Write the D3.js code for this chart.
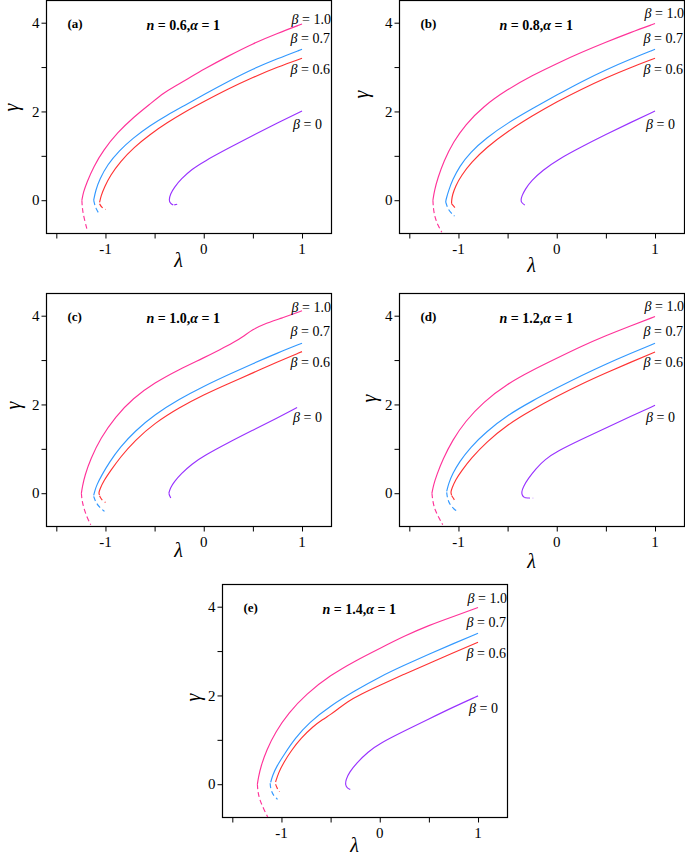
<!DOCTYPE html>
<html><head><meta charset="utf-8">
<script src="https://cdn.jsdelivr.net/npm/d3@7"></script>
<style>body{margin:0;background:#fff}svg{display:block}text{font-family:"Liberation Serif","Times New Roman","DejaVu Serif",serif}</style>
</head><body>
<svg id="chart" width="685" height="856"></svg>
<script>
// ---------- data ----------
const panelIds = ["a","b","c","d","e"];
const nValues = ["0.6","0.8","1.0","1.2","1.4"];
const alphaValue = "1";
const betaLabels = ["1.0","0.7","0.6","0"];
const xTicks = [-1.5,-1,-0.5,0,0.5,1];
const xTickLabels = [-1,0,1];
const yTicks = [0,1,2,3,4];
const yTickLabels = [0,2,4];

// panel (a) n=0.6   [lambda, gamma]
const a_b10 = [[1,3.97],[0.75,3.76],[0.5,3.53],[0.25,3.25],[0,2.95],[-0.18,2.71],[-0.30,2.56],[-0.40,2.43],[-0.54,2.18],[-0.71,1.88],[-0.88,1.52],[-1.02,1.13],[-1.12,0.76],[-1.19,0.40],[-1.225,0.18],[-1.24,0.0]];
const a_b10_d = [[-1.24,0],[-1.235,-0.2],[-1.22,-0.38],[-1.19,-0.64]];
const a_b07 = [[1,3.40],[0.75,3.19],[0.5,2.96],[0.25,2.68],[0,2.38],[-0.2,2.13],[-0.37,1.92],[-0.55,1.68],[-0.72,1.40],[-0.86,1.12],[-0.98,0.80],[-1.06,0.47],[-1.10,0.22],[-1.12,0.0]];
const a_b07_d = [[-1.12,0],[-1.11,-0.1],[-1.09,-0.22],[-1.06,-0.32]];
const a_b06 = [[1,3.20],[0.75,3.0],[0.5,2.77],[0.25,2.51],[0,2.22],[-0.2,1.98],[-0.37,1.75],[-0.55,1.48],[-0.71,1.19],[-0.85,0.87],[-0.95,0.56],[-1.01,0.30],[-1.045,0.10],[-1.06,-0.05]];
const a_b06_d = [[-1.06,-0.08],[-1.04,-0.16],[-1.0,-0.21]];
const a_b00 = [[1,2.01],[0.75,1.74],[0.5,1.46],[0.25,1.17],[0,0.87],[-0.12,0.70],[-0.23,0.48],[-0.30,0.29],[-0.34,0.14],[-0.355,0.0],[-0.34,-0.07],[-0.31,-0.11]];
const a_b00_d = [[-0.30,-0.105],[-0.27,-0.09]];

// panel (b) n=0.8
const b_b10 = [[1,3.98],[0.75,3.78],[0.5,3.56],[0.25,3.33],[0,3.08],[-0.25,2.81],[-0.5,2.50],[-0.75,2.11],[-0.93,1.70],[-1.05,1.32],[-1.15,0.88],[-1.21,0.50],[-1.245,0.22],[-1.26,0.0]];
const b_b10_d = [[-1.26,0],[-1.255,-0.2],[-1.24,-0.38],[-1.21,-0.56],[-1.17,-0.72]];
const b_b07 = [[1,3.40],[0.75,3.18],[0.5,2.94],[0.25,2.67],[0,2.37],[-0.25,2.06],[-0.5,1.74],[-0.72,1.40],[-0.88,1.08],[-0.99,0.76],[-1.06,0.46],[-1.10,0.22],[-1.125,0.03],[-1.13,-0.04]];
const b_b07_d = [[-1.13,-0.04],[-1.11,-0.18],[-1.08,-0.28],[-1.04,-0.36]];
const b_b06 = [[1,3.20],[0.75,2.99],[0.5,2.76],[0.25,2.50],[0,2.22],[-0.25,1.90],[-0.5,1.55],[-0.72,1.18],[-0.87,0.85],[-0.97,0.56],[-1.03,0.32],[-1.06,0.13],[-1.07,0.0],[-1.07,-0.08]];
const b_b06_d = [[-1.07,-0.08],[-1.05,-0.13],[-1.035,-0.17]];
const b_b00 = [[1,2.01],[0.75,1.75],[0.5,1.48],[0.25,1.2],[0,0.9],[-0.14,0.68],[-0.26,0.44],[-0.32,0.25],[-0.355,0.1],[-0.365,0],[-0.36,-0.05],[-0.325,-0.11]];
const b_b00_d = [];

// panel (c) n=1.0
const c_b10 = [[1,4.11],[0.8,3.95],[0.6,3.80],[0.5,3.69],[0.4,3.53],[0.3,3.39],[0.17,3.24],[0,3.05],[-0.25,2.79],[-0.5,2.49],[-0.72,2.14],[-0.9,1.72],[-1.05,1.24],[-1.15,0.78],[-1.21,0.40],[-1.235,0.15],[-1.245,0.0]];
const c_b10_d = [[-1.245,0],[-1.24,-0.15],[-1.22,-0.34],[-1.19,-0.53],[-1.15,-0.71]];
const c_b07 = [[1,3.38],[0.75,3.16],[0.5,2.92],[0.25,2.67],[0,2.41],[-0.25,2.12],[-0.5,1.77],[-0.7,1.40],[-0.85,1.04],[-0.96,0.70],[-1.04,0.40],[-1.09,0.18],[-1.11,0.04],[-1.12,-0.05]];
const c_b07_d = [[-1.12,-0.07],[-1.1,-0.2],[-1.06,-0.32],[-1.01,-0.41]];
const c_b06 = [[1,3.19],[0.75,2.96],[0.5,2.71],[0.25,2.47],[0,2.22],[-0.25,1.93],[-0.5,1.58],[-0.7,1.19],[-0.85,0.81],[-0.95,0.50],[-1.02,0.27],[-1.055,0.10],[-1.07,0.0],[-1.06,-0.04]];
const c_b06_d = [[-1.06,-0.06],[-1.04,-0.15],[-1.0,-0.21]];
const c_b00 = [[0.95,1.93],[0.75,1.70],[0.5,1.42],[0.25,1.14],[0,0.84],[-0.12,0.66],[-0.23,0.44],[-0.30,0.26],[-0.34,0.12],[-0.355,0.0]];
const c_b00_d = [[-0.355,0],[-0.345,-0.07],[-0.33,-0.13]];

// panel (d) n=1.2
const d_b10 = [[1,3.98],[0.75,3.77],[0.5,3.55],[0.25,3.31],[0,3.04],[-0.25,2.77],[-0.5,2.47],[-0.75,2.05],[-0.93,1.62],[-1.06,1.20],[-1.16,0.76],[-1.22,0.42],[-1.255,0.18],[-1.27,0.0]];
const d_b10_d = [[-1.27,0],[-1.26,-0.2],[-1.24,-0.37],[-1.2,-0.55],[-1.16,-0.71]];
const d_b07 = [[1,3.38],[0.75,3.15],[0.5,2.91],[0.25,2.65],[0,2.37],[-0.25,2.08],[-0.5,1.76],[-0.72,1.38],[-0.88,1.03],[-0.99,0.71],[-1.06,0.44],[-1.10,0.22],[-1.12,0.04]];
const d_b07_d = [[-1.12,0.02],[-1.11,-0.15],[-1.08,-0.28],[-1.04,-0.37],[-1.01,-0.41]];
const d_b06 = [[1,3.18],[0.75,2.95],[0.5,2.71],[0.25,2.46],[0,2.18],[-0.25,1.88],[-0.5,1.55],[-0.72,1.14],[-0.87,0.79],[-0.97,0.50],[-1.03,0.30],[-1.065,0.12],[-1.08,0.02],[-1.07,-0.04]];
const d_b06_d = [[-1.07,-0.05],[-1.05,-0.12],[-1.03,-0.19]];
const d_b00 = [[1,1.98],[0.75,1.73],[0.5,1.47],[0.25,1.21],[0,0.94],[-0.12,0.76],[-0.21,0.56],[-0.29,0.33],[-0.34,0.15],[-0.36,0.02],[-0.35,-0.06],[-0.325,-0.10]];
const d_b00_d = [[-0.325,-0.10],[-0.28,-0.11],[-0.24,-0.11]];

// panel (e) n=1.4
const e_b10 = [[1,3.98],[0.75,3.78],[0.5,3.58],[0.25,3.34],[0,3.06],[-0.25,2.78],[-0.5,2.46],[-0.75,2.03],[-0.93,1.60],[-1.06,1.18],[-1.15,0.78],[-1.21,0.40],[-1.235,0.15],[-1.245,0.0]];
const e_b10_d = [[-1.245,0],[-1.24,-0.18],[-1.22,-0.36],[-1.18,-0.56],[-1.14,-0.74]];
const e_b07 = [[1,3.40],[0.75,3.17],[0.5,2.93],[0.25,2.68],[0,2.42],[-0.25,2.11],[-0.5,1.77],[-0.72,1.39],[-0.86,1.04],[-0.97,0.68],[-1.05,0.40],[-1.09,0.20],[-1.11,0.04]];
const e_b07_d = [[-1.115,0.02],[-1.11,-0.12],[-1.08,-0.26],[-1.04,-0.34]];
const e_b06 = [[1,3.20],[0.75,2.96],[0.5,2.72],[0.25,2.48],[0,2.23],[-0.2,2.02],[-0.33,1.86],[-0.42,1.70],[-0.5,1.57],[-0.58,1.46],[-0.68,1.30],[-0.8,1.04],[-0.9,0.76],[-0.98,0.48],[-1.03,0.26],[-1.06,0.05]];
const e_b06_d = [[-1.06,0.0],[-1.045,-0.09],[-1.02,-0.17]];
const e_b00 = [[1,1.99],[0.75,1.74],[0.5,1.47],[0.25,1.2],[0,0.92],[-0.12,0.73],[-0.23,0.49],[-0.31,0.27],[-0.345,0.1],[-0.35,-0.02],[-0.33,-0.09],[-0.30,-0.12]];
const e_b00_d = [];

const solidSeries = {
  a:[a_b10,a_b07,a_b06,a_b00], b:[b_b10,b_b07,b_b06,b_b00], c:[c_b10,c_b07,c_b06,c_b00],
  d:[d_b10,d_b07,d_b06,d_b00], e:[e_b10,e_b07,e_b06,e_b00]};
const dashedSeries = {
  a:[a_b10_d,a_b07_d,a_b06_d,a_b00_d], b:[b_b10_d,b_b07_d,b_b06_d,b_b00_d], c:[c_b10_d,c_b07_d,c_b06_d,c_b00_d],
  d:[d_b10_d,d_b07_d,d_b06_d,d_b00_d], e:[e_b10_d,e_b07_d,e_b06_d,e_b00_d]};

// ---------- layout / style ----------
const colors = ["#ff3399","#3399ff","#ff3333","#9933ff"];
const W = 285, H = 233;
const layout = {
  a:{x:46,y:0,  lamY:33, gamX:-29, gamY:107, b10Y:23},
  b:{x:399,y:0, lamY:38, gamX:-32, gamY:94,  b10Y:17},
  c:{x:46,y:293,lamY:30, gamX:-27, gamY:112, b10Y:18},
  d:{x:399,y:293,lamY:41,gamX:-24, gamY:105, b10Y:17},
  e:{x:222,y:584,lamY:34,gamX:-23, gamY:113, b10Y:18}
};
const betaLabelY = [null,42,73.5,128];
const betaLabelX = [245,244,244,246.5];

const svg = d3.select("#chart");
const x = d3.scaleLinear().domain([-1.6,1.3]).range([0,W]);
const y = d3.scaleLinear().domain([-0.75,4.5]).range([H,0]);
const line = d3.line().x(d=>x(d[0])).y(d=>y(d[1])).curve(d3.curveBasis);

panelIds.forEach((id,pi)=>{
  const L = layout[id];
  const g = svg.append("g").attr("transform",`translate(${L.x+0.5},${L.y+0.5})`);

  // axes
  const xa = g.append("g").attr("transform",`translate(0,${H})`)
    .call(d3.axisBottom(x).tickValues(xTicks).tickSize(5).tickFormat(""));
  const ya = g.append("g")
    .call(d3.axisLeft(y).tickValues(yTicks).tickSize(5).tickFormat(""));
  [xa,ya].forEach(a=>{a.select(".domain").remove(); a.selectAll("line").attr("stroke","#000").attr("stroke-width",1);});

  g.selectAll(".xl").data(xTickLabels).enter().append("text")
    .attr("x",d=>x(d)).attr("y",H+20).attr("text-anchor","middle")
    .attr("font-size",15).text(d=>String(d));
  g.selectAll(".yl").data(yTickLabels).enter().append("text")
    .attr("x",-7).attr("y",d=>y(d)).attr("dy","0.35em").attr("text-anchor","end")
    .attr("font-size",15).text(d=>String(d));

  // frame
  g.append("rect").attr("x",0).attr("y",0).attr("width",W).attr("height",H)
    .attr("fill","none").attr("stroke","#000").attr("stroke-width",1.2);

  // curves
  const clip = "clip-"+id;
  g.append("clipPath").attr("id",clip).append("rect").attr("width",W).attr("height",H);
  const cg = g.append("g").attr("clip-path",`url(#${clip})`);
  solidSeries[id].forEach((pts,i)=>{
    cg.append("path").attr("d",line(pts)).attr("fill","none")
      .attr("stroke",colors[i]).attr("stroke-width",1.15);
  });
  dashedSeries[id].forEach((pts,i)=>{
    if(pts.length<2) return;
    cg.append("path").attr("d",line(pts)).attr("fill","none")
      .attr("stroke",colors[i]).attr("stroke-width",1.15).attr("stroke-dasharray","5,3");
  });

  // panel tag
  g.append("text").attr("x",21).attr("y",27)
    .attr("font-weight","bold").attr("font-size",13).text(`(${id})`);

  // title
  const t = g.append("text").attr("x",100).attr("y",29)
    .attr("font-weight","bold").attr("font-size",14);
  t.append("tspan").attr("font-style","italic").text("n");
  t.append("tspan").text(` = ${nValues[pi]},`);
  t.append("tspan").attr("font-style","italic").text("α");
  t.append("tspan").text(` = ${alphaValue}`);

  // beta labels
  betaLabels.forEach((b,i)=>{
    const ty = i===0 ? L.b10Y : betaLabelY[i];
    const bt = g.append("text").attr("x",betaLabelX[i]).attr("y",ty).attr("font-size",14);
    bt.append("tspan").attr("font-style","italic").text("β");
    bt.append("tspan").text(` = ${b}`);
  });

  // axis titles
  g.append("text").attr("x",132).attr("y",H+L.lamY).attr("text-anchor","middle")
    .attr("font-style","italic").attr("font-size",20).text("λ");
  g.append("text").attr("transform",`translate(${L.gamX},${L.gamY}) rotate(-90)`)
    .attr("text-anchor","middle").attr("font-style","italic")
    .attr("font-size",20).text("γ");
});
</script>
</body></html>
